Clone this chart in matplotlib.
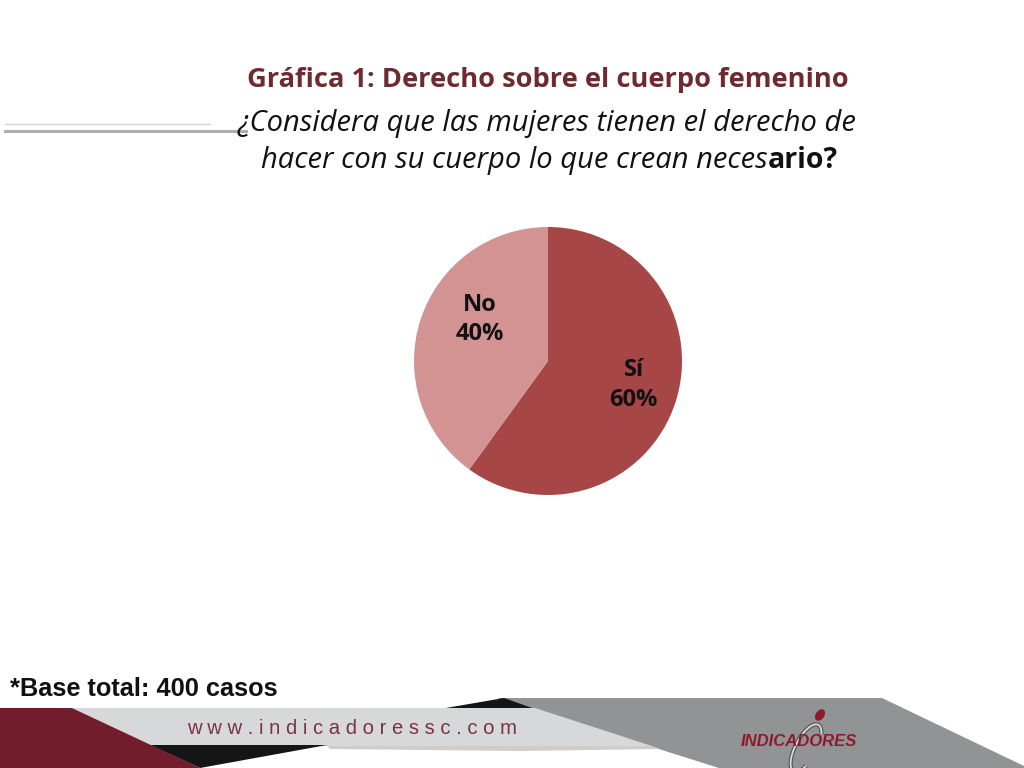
import matplotlib
matplotlib.use("Agg")
import matplotlib.pyplot as plt
from matplotlib.patches import Polygon, Ellipse, Arc
from matplotlib.lines import Line2D

labels = ["Sí", "No"]
values = [60, 40]
colors = ["#A64646", "#D39392"]

title = "Gráfica 1: Derecho sobre el cuerpo femenino"
q_line1 = "¿Considera que las mujeres tienen el derecho de"
q_line2a = "hacer con su cuerpo lo que crean neces"
q_line2b = "ario?"
base_note = "*Base total: 400 casos"
url = "w w w . i n d i c a d o r e s s c . c o m"
brand = "INDICADORES"

W, H = 1024, 768
fig = plt.figure(figsize=(W / 100, H / 100), dpi=100)
fig.patch.set_facecolor("white")

def P(x, y):
    return (x / W, 1 - y / H)

def poly(pts, color, z=1):
    fig.add_artist(Polygon([P(x, y) for x, y in pts], closed=True,
                           transform=fig.transFigure, facecolor=color,
                           edgecolor="none", zorder=z))

# header lines
fig.add_artist(Line2D([5 / W, 210 / W], [1 - 124 / H] * 2, transform=fig.transFigure,
                      color="#D4D4D4", lw=1.0))
fig.add_artist(Line2D([5 / W, 246 / W], [1 - 131 / H] * 2, transform=fig.transFigure,
                      color="#ADADAD", lw=2.2))

# titles
fig.text(548 / W, 1 - 80 / H, title, ha="center", va="center",
         fontsize=19.6, fontweight="bold", color="#6E2A2E", family="Open Sans")
fig.text(547 / W, 1 - 124 / H, q_line1, ha="center", va="center",
         fontsize=21, fontstyle="italic", color="#111111", family="Open Sans")

fig.canvas.draw()
r = fig.canvas.get_renderer()
base_y = 1 - 168 / H
ta = fig.text(0, base_y, q_line2a, ha="left", va="baseline", fontsize=21,
              fontstyle="italic", color="#111111", family="Open Sans")
tb = fig.text(0, base_y, q_line2b, ha="left", va="baseline", fontsize=20.5,
              fontweight="bold", color="#111111", family="Open Sans")
wa = ta.get_window_extent(r).width
wb = tb.get_window_extent(r).width
x0 = 549 - (wa + wb) / 2
ta.set_x(x0 / W)
tb.set_x((x0 + wa) / W)

# pie
cx, cy, rad = 548, 361, 134
ax = fig.add_axes([(cx - rad) / W, 1 - (cy + rad) / H, 2 * rad / W, 2 * rad / H])
wedges, texts = ax.pie(values, colors=colors, startangle=90, counterclock=False,
                       wedgeprops=dict(linewidth=0))
ax.set_aspect("equal")
ax.set_xlim(-1, 1)
ax.set_ylim(-1, 1)
ax.axis("off")
label_pos = [(0.64, -0.18), (-0.51, 0.31)]
for lab, v, (lx, ly) in zip(labels, values, label_pos):
    ax.text(lx, ly, f"{lab}\n{v}%", ha="center", va="center", fontsize=17,
            fontweight="bold", color="#111111", family="Open Sans", linespacing=1.3)

# footer note
fig.text(10 / W, 1 - 689 / H, base_note, ha="left", va="center", fontsize=18.3,
         fontweight="bold", color="#111111", family="Liberation Sans")

# footer banner
poly([(497, 698), (882, 698), (1024, 766), (1024, 768), (719, 768)], "#929395", 2)
poly([(440, 709), (504, 698), (535, 709)], "#151515", 3)
poly([(72, 708), (535, 708), (652, 746), (153, 746)], "#D7D8DA", 4)
poly([(327, 746), (652, 746), (660, 749), (520, 751), (330, 749)], "#D2CCC8", 3)
poly([(150, 745), (327, 745), (200, 768)], "#151515", 4)
poly([(0, 708), (72, 708), (200, 768), (0, 768)], "#731C2B", 5)

fig.text(352 / W, 1 - 728 / H, url, ha="center", va="center", fontsize=14.6,
         color="#7A3540", family="Liberation Sans", zorder=6)

# logo
fig.add_artist(Arc(P(806, 748), 22 / W, 50 / H, angle=-20, theta1=70, theta2=290,
                   transform=fig.transFigure, color="#555555", lw=3.0, zorder=6))
fig.add_artist(Arc(P(806, 748), 22 / W, 50 / H, angle=-20, theta1=70, theta2=290,
                   transform=fig.transFigure, color="#DADADA", lw=1.3, zorder=6))
fig.add_artist(Ellipse(P(820, 715), 9 / W, 12 / H, angle=-20, transform=fig.transFigure,
                       facecolor="#8E1A2A", edgecolor="none", zorder=6))
fig.text(799 / W, 1 - 741 / H, brand, ha="center", va="center", fontsize=12,
         fontweight="bold", fontstyle="italic", color="#8E1A2A",
         family="Liberation Sans", zorder=7)

fig.savefig("out.png", dpi=100, facecolor="white")
